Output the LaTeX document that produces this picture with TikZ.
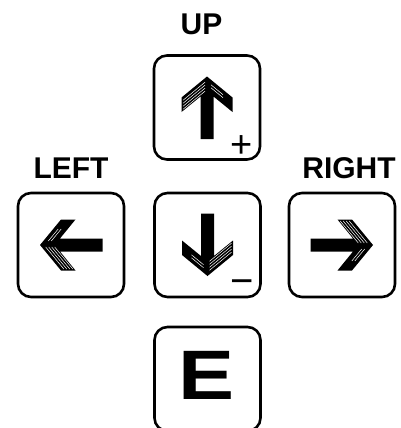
\documentclass[tikz,border=0pt]{standalone}
\usepackage{fontspec}
\setmainfont{Liberation Sans}
\usetikzlibrary{positioning}

% one arrow glyph, drawn pointing up and turned as needed
\newcommand{\arrowshape}{(0,-31) -- (25.5,-10) -- (25.5,4.5) -- (6.5,-11) -- (6.5,31.5)
    -- (-6.5,31.5) -- (-6.5,-11) -- (-25.5,4.5) -- (-25.5,-10) -- cycle}
\newcommand{\keyarrow}[2]{%
  \begin{scope}[shift={(#1)}, rotate=#2]
    \fill[arrowfill] \arrowshape;
    \clip \arrowshape;
    % worn print on the head
    \foreach \d in {4,7,10,13}
      \draw[hatchline] (-2,-29.3+\d) -- (-24,-11.2+\d);
    \foreach \d in {5,8}
      \draw[hatchline] (4,-27.7+\d) -- (16,-17.8+\d);
  \end{scope}}

\begin{document}
\begin{tikzpicture}[
    x=1pt, y=-1pt,
    keybox/.style={draw, line width=2.6pt, rounded corners=13pt, minimum width=106pt, minimum height=104pt, inner sep=0pt},
    keylabel/.style={font=\fontsize{30}{30}\selectfont\bfseries, inner sep=0pt, anchor=base},
    signlabel/.style={font=\fontsize{38}{38}\selectfont, inner sep=0pt},
    arrowfill/.style={fill=black, draw=none},
    hatchline/.style={draw=white, line width=0.5pt}
]
\useasboundingbox (0,0) rectangle (400,428);

% keys
\node[keybox] (up) at (207,107.5) {};
\node[keybox] (down) at (207.5,245) {};
\node[keybox] (left) at (71,245) {};
\node[keybox] (right) at (342,245) {};
\node[keybox] (enter) at (207.5,379) {};

% key names
\node[keylabel] (uplabel) at (201.5,35) {UP};
\node[keylabel] (leftlabel) at (71,178) {LEFT};
\node[keylabel] (rightlabel) at (349,178) {RIGHT};

% arrows
\keyarrow{up.center}{0}
\keyarrow{down.center}{180}
\keyarrow{left.center}{90}
\keyarrow{right.center}{-90}

% signs and E
\node[signlabel] (plus) at (242,147) {+};
\node[signlabel, font=\fontsize{40}{40}\selectfont] (minus) at (242.5,287) {−};
\node[font=\fontsize{70}{70}\selectfont\bfseries, inner sep=0pt, xscale=1.2] (elabel) at (206.5,375) {E};
\end{tikzpicture}
\end{document}
